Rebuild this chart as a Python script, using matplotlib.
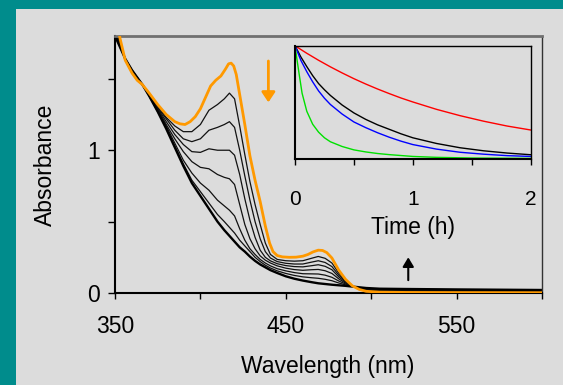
import numpy as np
import matplotlib
matplotlib.use("Agg")
import matplotlib.pyplot as plt
from matplotlib.patches import Rectangle

plt.rcParams['font.family'] = ['Liberation Sans', 'DejaVu Sans']

# wavelength grid (nm) the black spectra were read on
wavelengths = [350, 353, 356, 360, 363, 366, 370, 375, 380, 385, 390, 395, 400, 405, 410, 414, 417, 420,
               423, 426, 429, 432, 435, 438, 441, 445, 450, 455, 460, 465, 469, 473, 477, 481, 485, 489,
               493, 497, 505, 520, 550, 600]

# starting spectrum (orange), read a bit finer
wl_start = [350, 353, 356, 360, 363, 366, 370, 375, 380, 385, 388, 391, 394, 397, 400, 403, 406, 409, 412,
            414.5, 416.5, 418, 419.5, 421, 423, 426, 429, 432, 435, 438, 440.5, 442.5, 445, 448, 452, 456,
            460, 463, 466, 469, 471.5, 474, 477, 481, 485, 489, 493, 497, 505, 520, 550, 600]
spec_start = [1.98, 1.78, 1.63, 1.54, 1.49, 1.46, 1.40, 1.32, 1.25, 1.20, 1.185, 1.18, 1.20, 1.235, 1.29, 1.37,
              1.45, 1.49, 1.52, 1.565, 1.605, 1.61, 1.59, 1.53, 1.39, 1.18, 0.96, 0.79, 0.64, 0.47, 0.35, 0.29,
              0.262, 0.253, 0.25, 0.251, 0.258, 0.27, 0.288, 0.30, 0.298, 0.283, 0.245, 0.16, 0.095, 0.05,
              0.025, 0.012, 0.006, 0.004, 0.003, 0.002]

# intermediate spectra (thin black)
spec_1 = [1.95, 1.77, 1.63, 1.54, 1.49, 1.46, 1.40, 1.31, 1.23, 1.17, 1.13, 1.13, 1.18, 1.28, 1.32, 1.36, 1.40, 1.36,
          1.17, 0.97, 0.78, 0.62, 0.48, 0.35, 0.27, 0.235, 0.226, 0.223, 0.226, 0.243, 0.256, 0.243, 0.21, 0.14, 0.087, 0.049,
          0.028, 0.016, 0.014, 0.012, 0.010, 0.008]
spec_2 = [1.92, 1.76, 1.63, 1.55, 1.50, 1.46, 1.39, 1.30, 1.22, 1.14, 1.08, 1.06, 1.08, 1.14, 1.16, 1.18, 1.20, 1.16,
          1.00, 0.82, 0.65, 0.50, 0.38, 0.29, 0.245, 0.22, 0.208, 0.203, 0.203, 0.216, 0.226, 0.214, 0.185, 0.126, 0.081, 0.048,
          0.030, 0.019, 0.017, 0.015, 0.013, 0.011]
spec_3 = [1.89, 1.75, 1.635, 1.55, 1.50, 1.46, 1.39, 1.295, 1.20, 1.11, 1.04, 0.99, 0.985, 1.01, 1.00, 1.00, 1.00, 0.965,
          0.83, 0.66, 0.51, 0.39, 0.30, 0.25, 0.225, 0.205, 0.192, 0.185, 0.183, 0.191, 0.198, 0.187, 0.163, 0.113, 0.075, 0.048,
          0.032, 0.022, 0.020, 0.018, 0.016, 0.013]
spec_4 = [1.86, 1.74, 1.64, 1.55, 1.50, 1.46, 1.39, 1.29, 1.18, 1.08, 0.99, 0.92, 0.88, 0.87, 0.83, 0.81, 0.80, 0.76,
          0.62, 0.48, 0.38, 0.31, 0.26, 0.23, 0.21, 0.19, 0.174, 0.164, 0.159, 0.163, 0.165, 0.156, 0.137, 0.099, 0.069, 0.047,
          0.034, 0.025, 0.023, 0.021, 0.019, 0.015]
spec_5 = [1.83, 1.73, 1.64, 1.56, 1.51, 1.46, 1.38, 1.28, 1.17, 1.05, 0.93, 0.84, 0.77, 0.72, 0.65, 0.61, 0.58, 0.54,
          0.45, 0.37, 0.31, 0.27, 0.235, 0.21, 0.19, 0.17, 0.155, 0.143, 0.135, 0.134, 0.133, 0.125, 0.110, 0.084, 0.063, 0.046,
          0.036, 0.029, 0.026, 0.024, 0.021, 0.017]
spec_6 = [1.81, 1.72, 1.64, 1.56, 1.51, 1.46, 1.38, 1.27, 1.155, 1.03, 0.905, 0.79, 0.71, 0.63, 0.55, 0.50, 0.46, 0.42,
          0.37, 0.33, 0.29, 0.25, 0.22, 0.195, 0.175, 0.155, 0.137, 0.123, 0.113, 0.107, 0.103, 0.096, 0.086, 0.070, 0.057, 0.046,
          0.038, 0.032, 0.028, 0.026, 0.023, 0.019]

# final spectrum (thick black)
spec_end = [1.80, 1.72, 1.64, 1.56, 1.51, 1.46, 1.38, 1.27, 1.15, 1.02, 0.89, 0.77, 0.68, 0.59, 0.50, 0.44, 0.40, 0.36,
            0.32, 0.29, 0.255, 0.225, 0.20, 0.18, 0.16, 0.14, 0.117, 0.10, 0.087, 0.076, 0.068, 0.063, 0.058, 0.054, 0.05, 0.045,
            0.04, 0.035, 0.03, 0.028, 0.025, 0.021]

# inset: normalised decay traces vs time (h)
time_h = [0, 0.05, 0.1, 0.15, 0.2, 0.25, 0.3, 0.4, 0.5, 0.6, 0.7, 0.8, 0.9, 1.0, 1.2, 1.4, 1.6, 1.8, 2.0]
trace_red = [1, 0.966, 0.933, 0.902, 0.871, 0.842, 0.813, 0.759, 0.708, 0.661, 0.617, 0.576, 0.537, 0.502,
             0.437, 0.381, 0.332, 0.289, 0.254]
trace_black = [1, 0.90, 0.815, 0.735, 0.665, 0.61, 0.56, 0.475, 0.405, 0.348, 0.30, 0.26, 0.22, 0.185,
               0.135, 0.097, 0.07, 0.05, 0.035]
trace_blue = [1, 0.87, 0.77, 0.68, 0.60, 0.535, 0.48, 0.395, 0.325, 0.275, 0.23, 0.19, 0.155, 0.125,
              0.085, 0.057, 0.04, 0.027, 0.02]
time_green = [0, 0.015, 0.035, 0.06, 0.1, 0.15, 0.2, 0.25, 0.3, 0.4, 0.5, 0.6, 0.7, 0.8, 1.0, 1.2, 1.5, 2.0]
trace_green = [1, 0.89, 0.75, 0.58, 0.42, 0.305, 0.235, 0.185, 0.15, 0.108, 0.078, 0.06, 0.046, 0.036,
               0.02, 0.012, 0.006, 0.003]

W, H = 563, 385
bg = '#dcdcdc'
teal = '#008c8c'
orange = '#ff9900'

fig = plt.figure(figsize=(W / 100, H / 100), dpi=100, facecolor=teal)
# gray panel on the teal frame
fig.add_artist(Rectangle((16 / W, 0), 1 - 16 / W, 1 - 9 / H, transform=fig.transFigure,
                         facecolor=bg, edgecolor='none', zorder=-10))

ax = fig.add_axes([115 / W, 1 - 293 / H, 427 / W, 257 / H])
ax.set_facecolor(bg)

for spec in [spec_1, spec_2, spec_3, spec_4, spec_5, spec_6]:
    ax.plot(wavelengths, spec, color='#111111', linewidth=0.9)
ax.plot(wavelengths, spec_end, color='black', linewidth=1.7)
ax.plot(wl_start, spec_start, color=orange, linewidth=2.0, zorder=5)

ax.set_xlim(350, 600)
ax.set_ylim(0, 1.80)

ax.set_xticks([350, 400, 450, 500, 550, 600])
ax.set_xticklabels(['350', '', '450', '', '550', ''])
ax.set_yticks([0, 0.5, 1, 1.5])
ax.set_yticklabels(['0', '', '1', ''])
ax.tick_params(axis='x', direction='out', length=4.5, width=1, pad=11, labelsize=16.5)
ax.tick_params(axis='y', direction='out', length=5, width=1, pad=6, labelsize=16.5)

ax.spines['left'].set_linewidth(1.5)
ax.spines['bottom'].set_linewidth(1.5)
ax.spines['top'].set_color('#707070')
ax.spines['top'].set_linewidth(2)
ax.spines['right'].set_color('#333333')
ax.spines['right'].set_linewidth(1)

ax.set_xlabel('Wavelength (nm)', fontsize=16.5)
ax.xaxis.set_label_coords(0.499, -0.24)
ax.set_ylabel('Absorbance', fontsize=16.5)
ax.yaxis.set_label_coords(-0.135, 0.5)

# arrows showing direction of change
ax.annotate('', xy=(439.8, 1.335), xytext=(439.8, 1.625),
            arrowprops=dict(arrowstyle='-|>,head_length=0.6,head_width=0.4', color=orange, lw=2,
                            shrinkA=0, shrinkB=0))
ax.annotate('', xy=(521.7, 0.25), xytext=(521.7, 0.09),
            arrowprops=dict(arrowstyle='-|>,head_length=0.55,head_width=0.33', color='black', lw=1.5,
                            shrinkA=0, shrinkB=0))

# inset with kinetic traces
ins = fig.add_axes([295 / W, 1 - 158.7 / H, 235.7 / W, 113 / H])
ins.set_facecolor(bg)
ins.plot(time_h, trace_red, color='#ff0000', linewidth=1.0)
ins.plot(time_h, trace_black, color='black', linewidth=1.0)
ins.plot(time_h, trace_blue, color='#0000ff', linewidth=1.0)
ins.plot(time_green, trace_green, color='#00e000', linewidth=1.0)
ins.set_xlim(0, 2)
ins.set_ylim(0, 1)
ins.set_xticks([0, 0.5, 1, 1.5, 2])
ins.set_xticklabels(['0', '', '1', '', '2'])
ins.set_yticks([])
ins.tick_params(axis='x', direction='out', length=4.5, width=1, pad=18, labelsize=15)
ins.spines['left'].set_linewidth(1.5)
ins.spines['bottom'].set_linewidth(1.5)
ins.spines['top'].set_linewidth(1)
ins.spines['right'].set_linewidth(1)
ins.set_xlabel('Time (h)', fontsize=16.5)
ins.xaxis.set_label_coords(0.5, -0.51)

fig.savefig('out.png', dpi=100, facecolor=teal)
